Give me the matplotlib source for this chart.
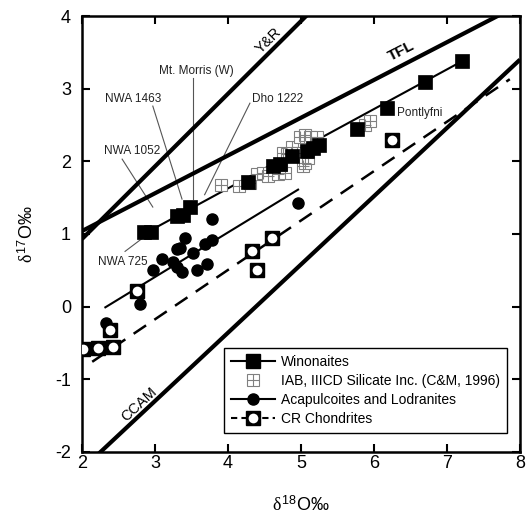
import matplotlib
matplotlib.use('Agg')
import matplotlib.pyplot as plt
from matplotlib.lines import Line2D
from matplotlib.legend_handler import HandlerTuple

plt.rcParams['font.family'] = 'Liberation Sans'
plt.rcParams['mathtext.fontset'] = 'custom'
plt.rcParams['mathtext.rm'] = 'Liberation Sans'
plt.rcParams['mathtext.it'] = 'Liberation Serif'
plt.rcParams['axes.unicode_minus'] = False

# Winonaites
win_x = [2.85, 2.95, 3.30, 3.38, 3.48, 4.27, 4.62, 4.71, 4.87, 5.08, 5.16, 5.25, 5.77, 6.18, 6.70, 7.21]
win_y = [1.02, 1.03, 1.25, 1.26, 1.37, 1.72, 1.93, 1.96, 2.07, 2.14, 2.19, 2.22, 2.44, 2.74, 3.09, 3.38]
win_line_x = [2.85, 7.21]
win_line_y = [1.00, 3.38]

# IAB, IIICD silicate inclusions
iab_x = [3.90, 4.15, 4.30, 4.40, 4.48, 4.55, 4.68, 4.78, 4.72, 4.75, 4.81, 4.88, 4.95,
         4.99, 5.06, 5.13, 5.22, 5.03, 5.05, 5.10, 5.88, 5.95]
iab_y = [1.67, 1.66, 1.70, 1.83, 1.84, 1.80, 1.82, 1.84, 1.95, 2.12, 2.10, 2.20, 2.12,
         2.33, 2.36, 2.34, 2.33, 1.93, 1.97, 2.05, 2.50, 2.55]

# Acapulcoites and Lodranites
aca_x = [2.33, 2.79, 2.97, 3.10, 3.25, 3.30, 3.34, 3.30, 3.37, 3.41, 3.52, 3.58, 3.68, 3.71, 3.78, 3.78, 4.96]
aca_y = [-0.22, 0.03, 0.50, 0.65, 0.62, 0.79, 0.80, 0.54, 0.47, 0.95, 0.74, 0.51, 0.86, 0.58, 0.92, 1.20, 1.43]
aca_line_x = [2.32, 4.96]
aca_line_y = [-0.01, 1.61]

# CR chondrites
cr_x = [2.01, 2.22, 2.42, 2.38, 2.75, 4.33, 4.40, 4.60, 6.25]
cr_y = [-0.58, -0.57, -0.55, -0.32, 0.22, 0.76, 0.50, 0.95, 2.30]
cr_line_x = [2.14, 7.86]
cr_line_y = [-0.76, 3.13]

# reference lines: slope, intercept
yr_line = (1.00, -1.07)
tfl_line = (0.52, 0.0)
ccam_line = (0.94, -4.12)

# labelled meteorites: text, text position, leader line start, leader line end
labels = [
    ("Mt. Morris (W)", (3.57, 3.25), (3.52, 3.15), (3.52, 1.48)),
    ("NWA 1463", (2.70, 2.86), (2.97, 2.76), (3.37, 1.48)),
    ("Dho 1222", (4.68, 2.86), (4.30, 2.80), (3.68, 1.54)),
    ("NWA 1052", (2.68, 2.14), (2.55, 2.03), (2.97, 1.37)),
    ("NWA 725", (2.56, 0.61), (2.59, 0.76), (2.84, 0.95)),
]

fig = plt.figure(figsize=(5.29, 5.17), dpi=100)
ax = fig.add_axes([0.155, 0.126, 0.828, 0.843])

xr = [2, 8]
for slope, icpt in [yr_line, tfl_line, ccam_line]:
    ax.plot(xr, [slope * x + icpt for x in xr], color='black', lw=3, zorder=2, solid_capstyle='butt')

ax.plot(cr_line_x, cr_line_y, color='black', lw=1.8, dashes=(6, 4), zorder=2)
ax.plot(win_line_x, win_line_y, color='black', lw=1.5, zorder=2)
ax.plot(aca_line_x, aca_line_y, color='black', lw=1.5, zorder=2)

for txt, tpos, a, b in labels:
    ax.plot([a[0], b[0]], [a[1], b[1]], color='#555555', lw=0.8, zorder=1)
    ax.text(tpos[0], tpos[1], txt, fontsize=8.5, ha='center', va='center', color='#222222')
ax.text(6.32, 2.66, "Pontlyfni", fontsize=8.5, ha='left', va='center', color='#222222')

ax.text(4.55, 3.66, "Y&R", fontsize=10.5, rotation=45, ha='center', va='center')
ax.text(6.38, 3.52, "TFL", fontsize=11, fontweight='bold', rotation=27, ha='center', va='center')
ax.text(2.79, -1.35, "CCAM", fontsize=10.5, rotation=43, ha='center', va='center')

ax.plot(iab_x, iab_y, ls='none', marker='s', ms=8.5, mfc='white', mec='#808080', mew=0.8, zorder=3)
ax.plot(iab_x, iab_y, ls='none', marker='+', ms=8.5, mec='#808080', mew=0.8, zorder=3)
ax.plot(win_x, win_y, ls='none', marker='s', ms=10, mfc='black', mec='black', mew=0.5, zorder=4)
ax.plot(aca_x, aca_y, ls='none', marker='o', ms=8, mfc='black', mec='black', zorder=4)
ax.plot(cr_x, cr_y, ls='none', marker='s', ms=9.5, mfc='black', mec='black', zorder=5)
ax.plot(cr_x, cr_y, ls='none', marker='o', ms=7, mfc='white', mec='none', zorder=6)

ax.set_xlim(2, 8)
ax.set_ylim(-2, 4)
ax.set_xticks(range(2, 9))
ax.set_yticks(range(-2, 5))
ax.tick_params(direction='in', length=6, width=1.5, labelsize=13, top=True, right=True)
ax.tick_params(axis='x', pad=2)
ax.tick_params(axis='y', pad=8)
for sp in ax.spines.values():
    sp.set_linewidth(1.8)

ax.set_xlabel(r'$\delta^{18}$O‰', fontsize=13)
ax.set_ylabel(r'$\delta^{17}$O‰', fontsize=13)
ax.xaxis.set_label_coords(0.5, -0.10)
ax.yaxis.set_label_coords(-0.103, 0.5)

h_win = Line2D([], [], color='black', lw=1.5, marker='s', ms=10, mfc='black')
h_iab = (Line2D([], [], ls='none', marker='s', ms=8.5, mfc='white', mec='#808080', mew=0.8),
         Line2D([], [], ls='none', marker='+', ms=8.5, mec='#808080', mew=0.8))
h_aca = Line2D([], [], color='black', lw=1.5, marker='o', ms=8, mfc='black')
h_cr = (Line2D([], [], color='black', lw=1.5, dashes=(3, 2), marker='s', ms=9.5, mfc='black'),
        Line2D([], [], ls='none', marker='o', ms=7, mfc='white', mec='none'))
leg = ax.legend([h_win, h_iab, h_aca, h_cr],
                ['Winonaites', 'IAB, IIICD Silicate Inc. (C&M, 1996)',
                 'Acapulcoites and Lodranites', 'CR Chondrites'],
                handler_map={tuple: HandlerTuple(ndivide=1, pad=0)},
                loc='lower left', bbox_to_anchor=(0.308, 0.028), fontsize=10,
                handlelength=3.2, handletextpad=0.4, labelspacing=0.35,
                borderpad=0.5, fancybox=False, framealpha=1)
leg.get_frame().set_edgecolor('black')
leg.get_frame().set_linewidth(1.0)

fig.savefig('out.png', dpi=100)
